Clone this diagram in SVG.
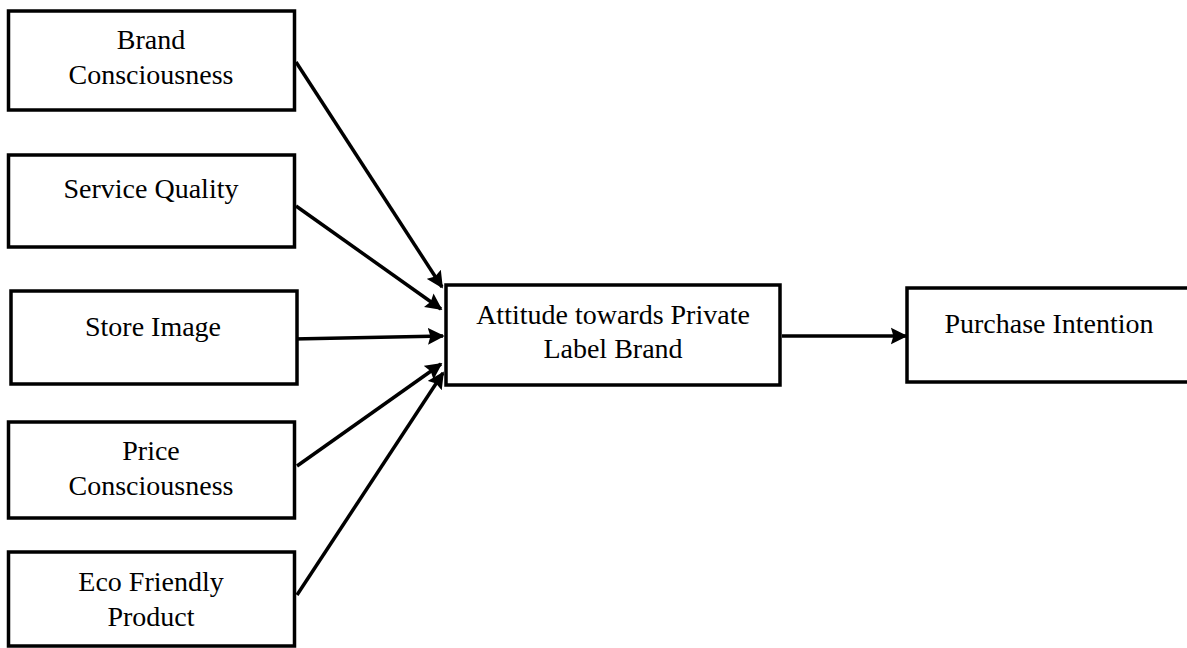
<svg xmlns="http://www.w3.org/2000/svg" width="1187" height="648" viewBox="0 0 1187 648">
<style>
.box{fill:#fff;stroke:#000;stroke-width:3.5}
.t{font-family:"Liberation Serif","Times New Roman",serif;font-size:28px;fill:#000;text-anchor:middle}
.c{stroke:#000;stroke-width:3.5;fill:none;marker-end:url(#ah)}
</style>
<defs>
<marker id="ah" viewBox="0 0 10 10" refX="9" refY="5" markerWidth="4.8" markerHeight="5" markerUnits="strokeWidth" orient="auto">
<path d="M0,0 L10,5 L0,10 L1.5,5 z" fill="#000"/>
</marker>
</defs>
<rect width="1187" height="648" fill="#fff"/>
<g id="connectors">
<line class="c" x1="296" y1="62" x2="442" y2="287"/>
<line class="c" x1="296" y1="206" x2="441" y2="309"/>
<line class="c" x1="293" y1="339" x2="443" y2="336"/>
<line class="c" x1="297" y1="466" x2="441" y2="364"/>
<line class="c" x1="297" y1="595" x2="443" y2="373"/>
<line class="c" x1="782" y1="336" x2="906" y2="336"/>
</g>
<g id="brand">
<rect class="box" x="8.5" y="11" width="286" height="99"/>
<text class="t" x="151" y="49">Brand</text>
<text class="t" x="151" y="84">Consciousness</text>
</g>
<g id="service">
<rect class="box" x="8.5" y="155" width="286" height="92"/>
<text class="t" x="151" y="198">Service Quality</text>
</g>
<g id="store">
<rect class="box" x="11" y="291" width="286" height="93"/>
<text class="t" x="153" y="336">Store Image</text>
</g>
<g id="price">
<rect class="box" x="8.5" y="422" width="286" height="96"/>
<text class="t" x="151" y="460">Price</text>
<text class="t" x="151" y="495">Consciousness</text>
</g>
<g id="eco">
<rect class="box" x="8.5" y="552" width="286" height="94"/>
<text class="t" x="151" y="591">Eco Friendly</text>
<text class="t" x="151" y="626">Product</text>
</g>
<g id="attitude">
<rect class="box" x="446" y="285" width="334" height="100"/>
<text class="t" x="613" y="324">Attitude towards Private</text>
<text class="t" x="613" y="358">Label Brand</text>
</g>
<g id="purchase">
<rect class="box" x="907" y="288" width="282" height="94"/>
<text class="t" x="1049" y="333">Purchase Intention</text>
</g>
</svg>
